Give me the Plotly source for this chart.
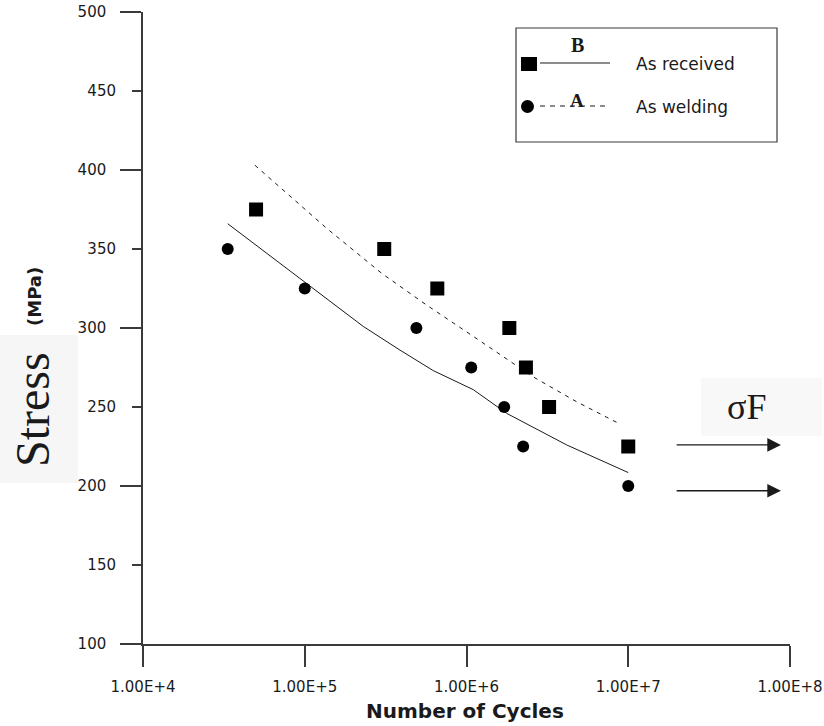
import plotly.graph_objects as go

# ---------------- data ----------------
received_cycles = [5.0e4, 3.1e5, 6.6e5, 1.84e6, 2.33e6, 3.24e6, 1.0e7]
received_stress = [375, 350, 325, 300, 275, 250, 225]

welding_cycles = [3.34e4, 1.0e5, 4.9e5, 1.07e6, 1.71e6, 2.24e6, 1.0e7]
welding_stress = [350, 325, 300, 275, 250, 225, 200]

# solid fitted curve (lower)
solid_cycles = [3.34e4, 9.8e4, 2.3e5, 3.88e5, 6.24e5, 1.1e6, 1.77e6, 4.16e6, 1.0e7]
solid_stress = [366, 330, 301, 286, 273, 261, 246, 226, 208.5]

# dashed fitted curve (upper)
dashed_cycles = [4.92e4, 1.37e5, 2.99e5, 5.67e5, 1.0e6, 2.59e6, 4.8e6, 8.97e6]
dashed_stress = [403, 363, 334.6, 314.5, 297.6, 269, 253.3, 239]

# fatigue-limit arrows (log10 cycles start/end, stress)
arrow_log_start = 7.29
arrow_log_end = 7.944
arrow_stress = [226, 197]

x_tick_vals = [1e4, 1e5, 1e6, 1e7, 1e8]
x_tick_text = ["1.00E+4", "1.00E+5", "1.00E+6", "1.00E+7", "1.00E+8"]
y_major_ticks = [100, 200, 300, 400, 500]
y_minor_ticks = [150, 250, 350, 450]

# ---------------- layout geometry (screen pixels) ----------------
W, H = 824, 726
X0, X1 = 143, 790            # screen x of 1e4 and 1e8
Y0, Y1 = 12, 644             # screen y of 500 and 100
L, T = X0, Y0
R, B = W - X1, H - Y1
PW, PH = X1 - X0, Y1 - Y0


def px(x):
    return (x - X0) / PW


def py(y):
    return (Y1 - y) / PH


INK = "#1a1a1a"
AXC = "#3a3a3a"

fig = go.Figure()

fig.add_trace(go.Scatter(x=dashed_cycles, y=dashed_stress, mode="lines",
                         line=dict(color=INK, width=1, dash="4px,5px"),
                         showlegend=False, hoverinfo="skip"))
fig.add_trace(go.Scatter(x=solid_cycles, y=solid_stress, mode="lines",
                         line=dict(color=INK, width=1),
                         showlegend=False, hoverinfo="skip"))
fig.add_trace(go.Scatter(x=received_cycles, y=received_stress, mode="markers",
                         marker=dict(symbol="square", size=14, color="black"),
                         name="As received", showlegend=False))
fig.add_trace(go.Scatter(x=welding_cycles, y=welding_stress, mode="markers",
                         marker=dict(symbol="circle", size=12, color="black"),
                         name="As welding", showlegend=False))
# invisible trace on y2 so the minor-tick axis renders
fig.add_trace(go.Scatter(x=[1e4], y=[100], yaxis="y2", mode="markers",
                         marker=dict(opacity=0), showlegend=False, hoverinfo="skip"))

shapes = []
annotations = []

# light background boxes behind big labels
shapes.append(dict(type="rect", xref="paper", yref="paper",
                   x0=px(0), x1=px(78), y0=py(483), y1=py(335),
                   fillcolor="#f6f6f6", line=dict(width=0), layer="below"))
shapes.append(dict(type="rect", xref="paper", yref="paper",
                   x0=px(701), x1=px(822), y0=py(436), y1=py(378),
                   fillcolor="#f8f8f8", line=dict(width=0), layer="below"))

# legend box
shapes.append(dict(type="rect", xref="paper", yref="paper",
                   x0=px(516), x1=px(777), y0=py(142), y1=py(28),
                   line=dict(color=AXC, width=1.2), fillcolor="white"))
shapes.append(dict(type="rect", xref="paper", yref="paper",
                   x0=px(521), x1=px(537), y0=py(71), y1=py(57),
                   fillcolor="black", line=dict(width=0)))
shapes.append(dict(type="line", xref="paper", yref="paper",
                   x0=px(540), x1=px(610), y0=py(63), y1=py(63),
                   line=dict(color=INK, width=1.2)))
shapes.append(dict(type="circle", xref="paper", yref="paper",
                   x0=px(521), x1=px(534), y0=py(113), y1=py(100),
                   fillcolor="black", line=dict(width=0)))
shapes.append(dict(type="line", xref="paper", yref="paper",
                   x0=px(540), x1=px(610), y0=py(106), y1=py(106),
                   line=dict(color=INK, width=1.2, dash="5px,5px")))


def label(text, x, y, size, family="DejaVu Sans", xanchor="center", angle=0):
    return dict(text=text, xref="paper", yref="paper", x=px(x), y=py(y),
                xanchor=xanchor, yanchor="middle", textangle=angle,
                showarrow=False, font=dict(family=family, size=size, color=INK))


annotations += [
    label("<b>B</b>", 577, 45, 20, "Liberation Serif"),
    label("<b>A</b>", 577, 101, 19, "Liberation Serif"),
    label("As received", 634, 64, 17, xanchor="left"),
    label("As welding", 634, 107, 17, xanchor="left"),
    label("Stress", 32, 410, 48, "Liberation Serif", angle=-90),
    label("<b>(MPa)</b>", 35, 296, 18, angle=-90),
    label("<b>Number of Cycles</b>", 465, 711, 20),
    label("σF", 746, 407, 36, "Liberation Serif"),
]

for s in arrow_stress:
    annotations.append(dict(x=arrow_log_end, y=s, ax=arrow_log_start, ay=s,
                            xref="x", yref="y", axref="x", ayref="y",
                            text="", showarrow=True, arrowhead=2,
                            arrowsize=2.1, arrowwidth=1.3, arrowcolor=INK))

fig.update_layout(
    width=W, height=H,
    margin=dict(l=L, r=R, t=T, b=B, autoexpand=False),
    paper_bgcolor="white", plot_bgcolor="white",
    showlegend=False,
    shapes=shapes, annotations=annotations,
    xaxis=dict(type="log", range=[4, 8], tickvals=x_tick_vals, ticktext=x_tick_text,
               ticks="outside", ticklen=21, tickwidth=1.5, tickcolor=AXC,
               showline=True, linecolor=AXC, linewidth=1.5, automargin=False,
               showgrid=False, zeroline=False, ticklabelstandoff=7,
               ticklabeloverflow="allow",
               tickfont=dict(family="DejaVu Sans", size=15, color=INK)),
    yaxis=dict(range=[100, 500], tickvals=y_major_ticks, automargin=False,
               ticks="outside", ticklen=21, tickwidth=1.5, tickcolor=AXC,
               showline=True, linecolor=AXC, linewidth=1.5,
               showgrid=False, zeroline=False, ticklabelstandoff=11,
               ticklabeloverflow="allow",
               tickfont=dict(family="DejaVu Sans", size=15, color=INK)),
    yaxis2=dict(range=[100, 500], overlaying="y", side="left", anchor="x",
                tickvals=y_minor_ticks, automargin=False,
                ticks="outside", ticklen=10, tickwidth=1.5, tickcolor=AXC,
                showline=False, showgrid=False, zeroline=False,
                ticklabelstandoff=13,
                tickfont=dict(family="DejaVu Sans", size=15, color=INK)),
)

fig.write_html("out.html",
               config={"displayModeBar": False},
               post_script="document.body.style.margin='0';document.body.style.overflow='hidden';")
